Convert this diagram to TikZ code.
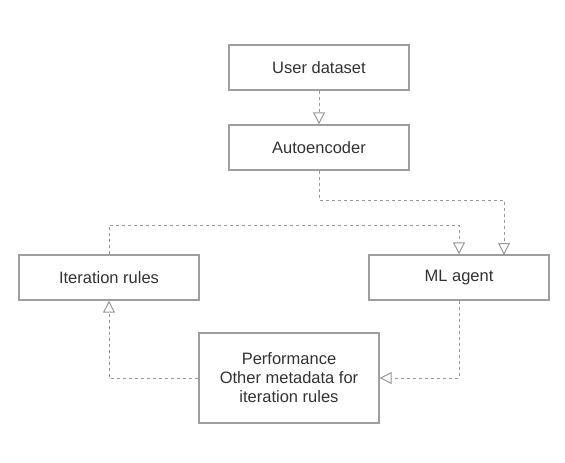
\documentclass[tikz,border=0pt]{standalone}
\usepackage{fontspec}
\setmainfont{Liberation Sans}
\usetikzlibrary{arrows.meta}
\definecolor{edgegray}{HTML}{999999}
\definecolor{boxgray}{HTML}{9E9E9E}
\definecolor{txt}{HTML}{333333}
\begin{document}
\begin{tikzpicture}[x=1pt,y=-1pt,
  box/.style={draw=boxgray,line width=1.3pt,fill=white,minimum width=180pt,minimum height=45pt,inner sep=0pt,
    font=\fontsize{16.5}{19}\selectfont,text=txt,align=center},
  link/.style={draw=edgegray,line width=1pt,dash pattern=on 3pt off 3pt,
    -{Triangle[open,length=12pt,width=12pt,fill=white,line width=1pt]}}]
\useasboundingbox (0,0) rectangle (565,463);
\node[box] (user) at (319,67.5) {User dataset};
\node[box] (auto) at (319,147.5) {Autoencoder};
\node[box] (iter) at (109,277.5) {Iteration rules};
\node[box] (ml) at (459,277.5) {ML agent};
\node[box,minimum height=90pt] (perf) at (289,378) {Performance\\Other metadata for\\iteration rules};
\draw[link] (user.south) -- (auto.south |- auto.north);
\draw[link] (auto.south) -- (319,200) -- (504,200) -- (504,255);
\draw[link] (iter.north) -- (109,225) -- (459,225) -- (ml.north);
\draw[link] (ml.south) -- (459,378) -- (perf.east);
\draw[link] (perf.west) -- (109,378) -- (iter.south);
\end{tikzpicture}
\end{document}
